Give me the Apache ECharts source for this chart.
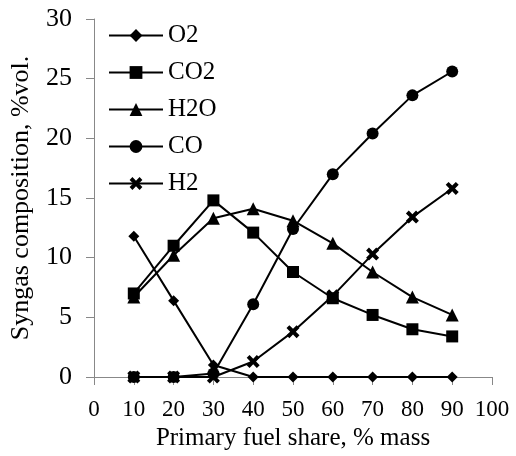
<!DOCTYPE html>
<html><head><meta charset="utf-8">
<script src="https://cdn.jsdelivr.net/npm/echarts@6/dist/echarts.min.js"></script>
<style>html,body{margin:0;padding:0;background:#fff}#c{width:516px;height:456px}</style>
</head><body><div id="c"></div>
<script>
const xValues = [10, 20, 30, 40, 50, 60, 70, 80, 90];
const o2  = [11.8, 6.4, 1.0, 0, 0, 0, 0, 0, 0];
const co2 = [7.0, 11.0, 14.8, 12.1, 8.8, 6.6, 5.2, 4.0, 3.4];
const h2o = [6.7, 10.2, 13.3, 14.1, 13.1, 11.2, 8.8, 6.7, 5.2];
const co  = [0, 0, 0.3, 6.1, 12.4, 17.0, 20.4, 23.6, 25.6];
const h2  = [0, 0, 0, 1.3, 3.8, 6.8, 10.3, 13.4, 15.8];
const seriesNames = ['O2', 'CO2', 'H2O', 'CO', 'H2'];

const crossPath = 'path://M2.2,0 L5,2.8 L7.8,0 L10,2.2 L7.2,5 L10,7.8 L7.8,10 L5,7.2 L2.2,10 L0,7.8 L2.8,5 L0,2.2 Z';
const symbols = ['diamond', 'rect', 'triangle', 'circle', crossPath];
const sizes = [11, 12, 13, 12, 13];
const data = [o2, co2, h2o, co, h2];
const font = '"Liberation Serif", "Times New Roman", serif';

const chart = echarts.init(document.getElementById('c'), null, {renderer: 'canvas'});
chart.setOption({
  animation: false,
  backgroundColor: '#fff',
  grid: {left: 93, right: 24, top: 19, bottom: 79},
  legend: {
    orient: 'vertical', left: 108, top: 23, padding: 0,
    itemWidth: 54, itemHeight: 16, itemGap: 12,
    textStyle: {fontFamily: font, fontSize: 25, lineHeight: 25, color: '#000'},
    data: seriesNames
  },
  xAxis: {
    type: 'value', min: 0, max: 100, interval: 10,
    name: 'Primary fuel share, % mass', nameLocation: 'middle', nameGap: 45,
    nameTextStyle: {fontFamily: font, fontSize: 25, color: '#000'},
    axisLine: {lineStyle: {color: '#888', width: 1}},
    axisTick: {show: true, inside: false, length: 8, lineStyle: {color: '#888'}},
    axisLabel: {fontFamily: font, fontSize: 23, color: '#000', margin: 21},
    splitLine: {show: false}
  },
  yAxis: {
    type: 'value', min: 0, max: 30, interval: 5,
    name: 'Syngas composition, %vol.', nameLocation: 'middle', nameGap: 60,
    nameTextStyle: {fontFamily: font, fontSize: 26, color: '#000'},
    axisLine: {show: true, lineStyle: {color: '#888', width: 1}},
    axisTick: {show: true, inside: false, length: 8, lineStyle: {color: '#888'}},
    axisLabel: {fontFamily: font, fontSize: 26, color: '#000', margin: 22},
    splitLine: {show: false}
  },
  series: seriesNames.map((n, i) => ({
    name: n, type: 'line',
    data: xValues.map((x, j) => [x, data[i][j]]),
    symbol: symbols[i], symbolSize: sizes[i], showAllSymbol: true,
    lineStyle: {color: '#000', width: 2},
    itemStyle: {color: '#000'},
    z: 2 + i
  }))
});
</script></body></html>
